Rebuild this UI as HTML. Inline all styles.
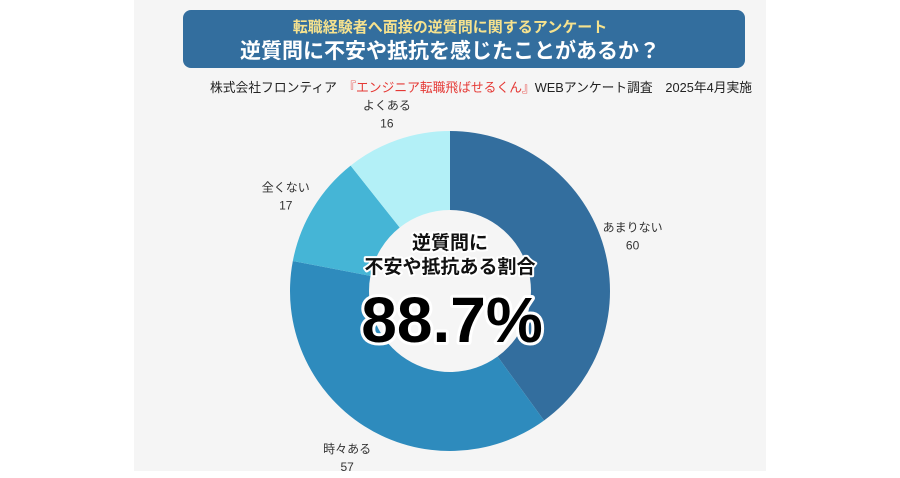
<!DOCTYPE html>
<html><head><meta charset="utf-8"><style>
body{margin:0;width:900px;height:473px;background:#fff;overflow:hidden;font-family:"Liberation Sans","Noto Sans CJK JP",sans-serif;}
</style></head><body>
<svg width="900" height="473" viewBox="0 0 900 473">
<rect x="134" y="0" width="632" height="471" fill="#f5f5f5"/>
<rect x="183" y="10" width="562" height="58" rx="8" fill="#336e9e"/>
<text x="450" y="32" text-anchor="middle" font-size="15" font-weight="bold" fill="#f6e28e" font-family="Liberation Sans,Noto Sans CJK JP,sans-serif">転職経験者へ面接の逆質問に関するアンケート</text>
<text x="450" y="58" text-anchor="middle" font-size="21" font-weight="bold" fill="#fff" font-family="Liberation Sans,Noto Sans CJK JP,sans-serif">逆質問に不安や抵抗を感じたことがあるか？</text>
<text x="210" y="92" font-size="13" fill="#222" textLength="542" lengthAdjust="spacingAndGlyphs" font-family="Liberation Sans,Noto Sans CJK JP,sans-serif">株式会社フロンティア　<tspan fill="#e53935">『エンジニア転職飛ばせるくん』</tspan>WEBアンケート調査　2025年4月実施</text>
<g id="slices"></g>
<g id="labels" font-size="12" fill="#333" font-family="Liberation Sans,Noto Sans CJK JP,sans-serif"></g>
<g font-family="Liberation Sans,Noto Sans CJK JP,sans-serif" font-weight="bold" text-anchor="middle" stroke="#fff" stroke-width="4" paint-order="stroke" stroke-linejoin="round">
<text x="450" y="249" font-size="19" fill="#111">逆質問に</text>
<text x="450" y="273" font-size="19" fill="#111">不安や抵抗ある割合</text>
<text x="452" y="342" font-size="64" fill="#000" stroke-width="6">88.7%</text>
</g>
</svg>
<script>
const categories=["あまりない","時々ある","全くない","よくある"];
const values=[60,57,17,16];
const colors=["#336e9e","#2e8bbd","#45b5d6","#b3f0f7"];
const cx=450,cy=291,R=160,r=81;
const total=values.reduce((a,b)=>a+b,0);
const ns="http://www.w3.org/2000/svg";
const gs=document.getElementById('slices'),gl=document.getElementById('labels');
function pt(a,rad){return [cx+rad*Math.sin(a),cy-rad*Math.cos(a)];}
let acc=0;
values.forEach((v,i)=>{
 const a0=acc/total*2*Math.PI;acc+=v;const a1=acc/total*2*Math.PI;
 const lg=(a1-a0)>Math.PI?1:0;
 const p0=pt(a0,R),p1=pt(a1,R),q1=pt(a1,r),q0=pt(a0,r);
 const p=document.createElementNS(ns,'path');
 p.setAttribute('d',`M${p0[0]},${p0[1]}A${R},${R} 0 ${lg} 1 ${p1[0]},${p1[1]}L${q1[0]},${q1[1]}A${r},${r} 0 ${lg} 0 ${q0[0]},${q0[1]}Z`);
 p.setAttribute('fill',colors[i]);
 
 
 gs.appendChild(p);
 const am=(a0+a1)/2;const lp=pt(am,R+32);
 const t=document.createElementNS(ns,'text');
 t.setAttribute('x',lp[0]);t.setAttribute('y',lp[1]);
 t.setAttribute('text-anchor','middle');
 t.textContent=categories[i];
 
 
 gl.appendChild(t);
 const t2=document.createElementNS(ns,'text');
 t2.setAttribute('x',lp[0]);t2.setAttribute('y',lp[1]+18);
 t2.setAttribute('text-anchor','middle');
 t2.textContent=v;
 
 
 gl.appendChild(t2);
});
</script>
</body></html>
